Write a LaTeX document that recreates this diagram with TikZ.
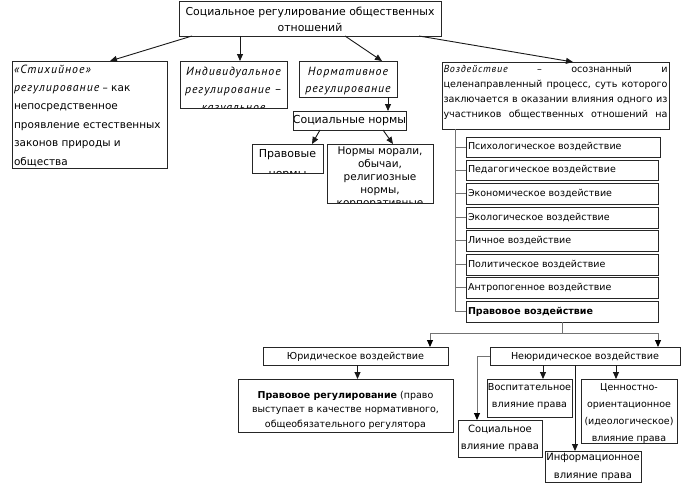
\documentclass[tikz,border=0pt]{standalone}
\usepackage{fontspec}
\setmainfont{DejaVu Sans}
\newfontfamily\itf{PT Sans}[LetterSpace=8,Scale=1.15]
\usetikzlibrary{arrows.meta,calc}
\newcommand\iT[1]{{\itf\itshape #1}}
\newcommand\iTb[1]{{\fontsize{10.3}{18.4}\itf\itshape #1}}
\newcommand\iTs[1]{{\fontsize{8.8}{15}\itf\itshape #1}}
\newcommand\st{\rule{0pt}{9pt}}
\newcommand\mybox[7]{%
  \pgfmathsetmacro\cx{(#2+#4)/2}\pgfmathsetmacro\cy{(#3+#5)/2}%
  \pgfmathsetmacro\ww{#4-#2}\pgfmathsetmacro\hh{#5-#3}%
  \node[box, minimum width=\ww pt, minimum height=\hh pt,
        path picture={\node[txt,#6] (#1t) {#7};}] (#1) at (\cx,\cy) {};%
}
\tikzset{
  box/.style={draw=black!85, line width=0.9pt, inner sep=0pt, outer sep=0pt},
  txt/.style={draw=none, minimum width=0pt, minimum height=0pt, inner sep=0pt},
  tl/.style={anchor=north west, at={(path picture bounding box.north west)}, align=left, xshift=2pt},
  tc/.style={anchor=north, at={(path picture bounding box.north)}, align=center},
  listtxt/.style={anchor=north west, at={(path picture bounding box.north west)}, align=left, xshift=2pt, yshift=-4.3pt, font=\fontsize{9.5}{12}\selectfont},
  ctxt/.style={anchor=north, at={(path picture bounding box.north)}, align=center, yshift=-4.3pt},
  arr/.style={line width=0.9pt, draw=black!90, -{Triangle[length=7pt,width=6pt]}},
  gln/.style={line width=0.9pt, draw=black!55},
  garr/.style={line width=0.9pt, draw=black!55, -{Triangle[length=7pt,width=6pt,color=black]}},
}
\begin{document}
\begin{tikzpicture}[x=1pt,y=-1pt]
\useasboundingbox (0,0) rectangle (684,487);
\fill[white] (0,0) rectangle (684,487);

% top level
\mybox{top}{179}{1}{441}{36}{tc,yshift=-6pt,font=\fontsize{10.9}{15}\selectfont}{\st Социальное регулирование общественных\\отношений}

\mybox{b1}{12}{61}{167}{168}{tl,yshift=-3pt,font=\fontsize{10.5}{18.4}\selectfont}{\st\iTb{«Стихийное»}\\\iTb{регулирование} – как\\непосредственное\\проявление естественных\\законов природы и\\общества}
\mybox{b2}{180}{61}{287}{108}{tc,yshift=-5pt,font=\fontsize{10.3}{18}\selectfont}{\st\iT{Индивидуальное}\\\iT{регулирование –}\\\iT{казуальное}}
\mybox{b3}{299}{61}{397}{97}{tc,yshift=-5pt,font=\fontsize{10.3}{17.5}\selectfont}{\st\iT{Нормативное}\\\iT{регулирование}}
\mybox{soc}{293}{111}{406}{130}{tc,yshift=-3pt,font=\fontsize{11}{13}\selectfont}{\st Социальные нормы}
\mybox{pn}{252}{144}{323}{173}{tc,yshift=-4pt,font=\fontsize{11}{20}\selectfont}{\st Правовые\\нормы}
\mybox{nm}{327}{144}{433}{203}{tc,yshift=-1pt,font=\fontsize{10.5}{13}\selectfont}{\st Нормы морали,\\обычаи,\\религиозные\\нормы,\\корпоративные}

\mybox{vz}{442}{62}{669}{129}{tl,xshift=-0.5pt,yshift=-1pt,font=\fontsize{9.6}{15}\selectfont}{\st\makebox[224pt][s]{\iTs{Воздействие} – осознанный и}\\\makebox[224pt][s]{целенаправленный процесс, суть которого}\\\makebox[224pt][s]{заключается в оказании влияния одного из}\\\makebox[224pt][s]{участников общественных отношений на}}

% list
\mybox{l1}{466}{137}{660}{157}{listtxt,yshift=0.5pt}{\st Психологическое воздействие}
\mybox{l2}{466}{160}{658}{180}{listtxt,yshift=0.5pt}{\st Педагогическое воздействие}
\mybox{l3}{466}{183}{658}{204}{listtxt}{\st Экономическое воздействие}
\mybox{l4}{466}{207}{658}{228}{listtxt}{\st Экологическое воздействие}
\mybox{l5}{466}{230}{658}{251}{listtxt}{\st Личное воздействие}
\mybox{l6}{466}{254}{658}{275}{listtxt}{\st Политическое воздействие}
\mybox{l7}{466}{277}{658}{298}{listtxt}{\st Антропогенное воздействие}
\mybox{l8}{466}{301}{658}{322}{listtxt}{\st\textbf{Правовое воздействие}}

% bottom
\mybox{yur}{263}{347}{448}{365}{ctxt,yshift=1pt,font=\fontsize{9.6}{12}\selectfont}{\st Юридическое воздействие}
\mybox{neyur}{490}{347}{680}{365}{ctxt,yshift=1pt,font=\fontsize{9.6}{12}\selectfont}{\st Неюридическое воздействие}
\mybox{prr}{238}{379}{453}{432}{tc,yshift=-10.5pt,font=\fontsize{9.5}{14.3}\selectfont}{\st\textbf{Правовое регулирование} (право\\выступает в качестве нормативного,\\общеобязательного регулятора}
\mybox{vosp}{487}{379}{572}{417}{tc,yshift=-2pt,font=\fontsize{9.6}{17}\selectfont}{\st Воспитательное\\влияние права}
\mybox{cenn}{581}{379}{677}{443}{tc,yshift=-2pt,font=\fontsize{9.5}{17}\selectfont}{\st Ценностно-\\ориентационное\\(идеологическое)\\влияние права}
\mybox{svl}{458}{420}{542}{457}{tc,yshift=-3pt,font=\fontsize{10}{17}\selectfont}{\st Социальное\\влияние права}
\mybox{inf}{545}{451}{641}{482}{tc,yshift=0pt,font=\fontsize{10}{18}\selectfont}{\st Информационное\\влияние права}

% connectors top
\draw[arr] ([xshift=13pt]top.south west) -- ([xshift=98pt]b1.north west);
\draw[arr] ([xshift=61pt]top.south west) -- ([xshift=60pt]b2.north west);
\draw[arr] ([xshift=166pt]top.south west) -- ([xshift=83pt]b3.north west);
\draw[arr] ([xshift=-22pt]top.south east) -- ([xshift=131pt]vz.north west);
\draw[arr] ([xshift=-9pt]b3.south east) -- ([xshift=-9pt]b3.south east |- soc.north);
\draw[arr] ([xshift=27pt]soc.south west) -- ([xshift=60pt]pn.north west);
\draw[arr] ([xshift=90pt]soc.south west) -- ([xshift=66pt]nm.north west);

% tree
\coordinate (tr) at ([xshift=13pt]vz.south west);
\draw[gln] (tr) |- (l8.west);
\foreach \n in {l1,l2,l3,l4,l5,l6,l7} \draw[gln] (\n.west) -- (\n.west -| tr);

% split
\draw[gln] (l8.south) -- ++(0,11) coordinate (sp);
\draw[garr] (sp) -| ([xshift=-18pt]yur.north east);
\draw[garr] (sp) -| ([xshift=-22pt]neyur.north east);

\draw[arr] ([xshift=2pt]yur.south) -- ([xshift=2pt]yur.south |- prr.north);
\draw[garr] (neyur.west) -| ([xshift=19pt]svl.north west);
\draw[arr] ([xshift=53pt]neyur.south west) -- ([xshift=53pt]neyur.south west |- vosp.north);
\draw[arr] ([xshift=126pt]neyur.south west) -- ([xshift=126pt]neyur.south west |- cenn.north);
\draw[arr] ([xshift=85pt]neyur.south west) -- ([xshift=85pt]neyur.south west |- inf.north);
\end{tikzpicture}
\end{document}
